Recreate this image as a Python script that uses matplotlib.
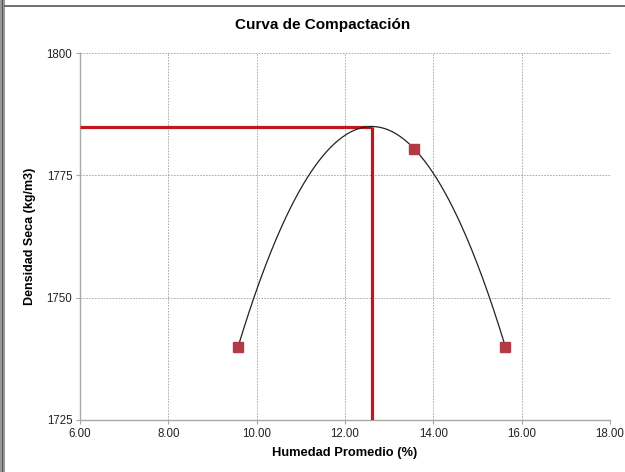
import numpy as np
import matplotlib.pyplot as plt
from matplotlib.lines import Line2D
from matplotlib.patches import Rectangle

# data
humedad = [9.58, 13.57, 15.63]
densidad = [1740.0, 1780.4, 1740.0]
xticks = [6, 8, 10, 12, 14, 16, 18]
yticks = [1725, 1750, 1775, 1800]

# second order trendline (like Excel)
coef = np.polyfit(humedad, densidad, 2)
xs = np.linspace(min(humedad), max(humedad), 200)
ys = np.polyval(coef, xs)
w_opt = -coef[1] / (2 * coef[0])
d_opt = np.polyval(coef, w_opt)

plt.rcParams['font.family'] = ['Liberation Sans', 'DejaVu Sans']

fig = plt.figure(figsize=(6.25, 4.72), dpi=100)
ax = fig.add_axes([80 / 625, 52 / 472, 530 / 625, 367 / 472])

ax.set_xlim(6, 18)
ax.set_ylim(1725, 1800)
ax.set_xticks(xticks)
ax.set_yticks(yticks)
ax.set_xticklabels(['%.2f' % t for t in xticks])
ax.grid(True, color='#a0a0a0', linestyle=(0, (2, 1.5)), linewidth=0.6)
ax.set_axisbelow(True)

for s in ['top', 'right']:
    ax.spines[s].set_visible(False)
for s in ['left', 'bottom']:
    ax.spines[s].set_color('#a8a8a8')
    ax.spines[s].set_linewidth(1)
ax.tick_params(length=3, width=0.8, color='#a8a8a8', labelsize=8.3, labelcolor='#222222', pad=2.5)

# optimum lines
ax.plot([6, w_opt], [d_opt, d_opt], color='#c0161e', lw=2.3, solid_capstyle='butt', zorder=3)
ax.plot([w_opt, w_opt], [1725, d_opt], color='#c0161e', lw=2.3, solid_capstyle='butt', zorder=3)

ax.plot(xs, ys, color='#222222', lw=0.9, zorder=4)
ax.plot(humedad, densidad, 's', ms=7, color='#b23a44', mec='#b23a44', zorder=5)

fig.text(323 / 625, 1 - 25 / 472, 'Curva de Compactación', ha='center', va='center',
         fontsize=11, fontweight='bold')
ax.set_xlabel('Humedad Promedio (%)', fontsize=9.3, fontweight='bold', labelpad=5)
ax.set_ylabel('Densidad Seca (kg/m3)', fontsize=9, fontweight='bold', labelpad=8)

# window frame of the screenshot
fig.add_artist(Rectangle((0, 0), 5 / 625, 1, transform=fig.transFigure, color='#9a9a9a', lw=0))
fig.add_artist(Line2D([2 / 625, 2 / 625], [0, 1], transform=fig.transFigure, color='#555555', lw=0.8))
fig.add_artist(Line2D([5 / 625, 1], [1 - 6 / 472, 1 - 6 / 472], transform=fig.transFigure, color='#555555', lw=1.2))

fig.savefig('out.png', dpi=100)
